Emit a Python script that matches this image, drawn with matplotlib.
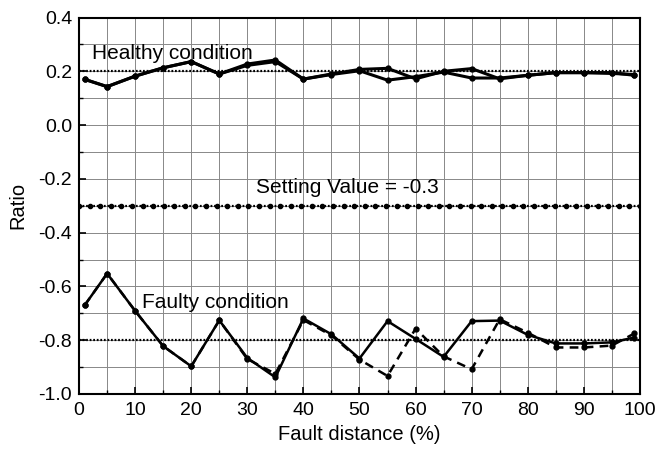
import numpy as np
import matplotlib
matplotlib.use("Agg")
import matplotlib.pyplot as plt

plt.rcParams['font.family'] = ['Liberation Sans', 'DejaVu Sans']

x = [1, 5, 10, 15, 20, 25, 30, 35, 40, 45, 50, 55, 60, 65, 70, 75, 80, 85, 90, 95, 99]
healthy_a = [0.170, 0.143, 0.182, 0.213, 0.236, 0.190, 0.227, 0.242, 0.171, 0.190, 0.207,
             0.211, 0.172, 0.200, 0.210, 0.172, 0.185, 0.195, 0.195, 0.195, 0.185]
healthy_b = [0.170, 0.143, 0.182, 0.213, 0.236, 0.190, 0.222, 0.236, 0.171, 0.188, 0.202,
             0.167, 0.180, 0.197, 0.175, 0.175, 0.185, 0.195, 0.195, 0.192, 0.188]
faulty_solid = [-0.670, -0.552, -0.691, -0.822, -0.897, -0.726, -0.866, -0.938, -0.719, -0.778, -0.868,
                -0.729, -0.795, -0.862, -0.729, -0.727, -0.780, -0.812, -0.812, -0.808, -0.790]
faulty_dashed = [-0.670, -0.552, -0.691, -0.822, -0.897, -0.726, -0.870, -0.925, -0.725, -0.782, -0.872,
                 -0.933, -0.757, -0.860, -0.908, -0.722, -0.772, -0.827, -0.827, -0.820, -0.775]
healthy_ref = 0.2
faulty_ref = -0.8
setting_value = -0.3

fig = plt.figure(figsize=(6.59, 4.49), dpi=100)
ax = fig.add_axes([0.12, 0.1225, 0.851, 0.8385])

ax.set_xlim(0, 100)
ax.set_ylim(-1.0, 0.4)
ax.set_xticks(np.arange(0, 101, 10))
ax.set_xticks(np.arange(0, 101, 5), minor=True)
ax.set_yticks(np.arange(-1.0, 0.41, 0.2))
ax.set_yticks(np.arange(-1.0, 0.41, 0.1), minor=True)
ax.set_yticklabels(['-1.0', '-0.8', '-0.6', '-0.4', '-0.2', '0.0', '0.2', '0.4'])
ax.grid(True, which='both', color='#888888', linewidth=0.7)
ax.set_axisbelow(True)
ax.tick_params(which='both', direction='in', top=False, right=False, labelsize=14)
ax.tick_params(axis='x', which='major', pad=6)
ax.tick_params(axis='y', which='major', pad=5)
ax.tick_params(which='major', length=5, width=1.2)
ax.tick_params(which='minor', length=3, width=1)
for s in ax.spines.values():
    s.set_linewidth(1.5)

dot = (0, (0.8, 0.8))
ax.plot([0, 100], [healthy_ref, healthy_ref], color='black', linestyle=dot, linewidth=1.6)
ax.plot([0, 100], [faulty_ref, faulty_ref], color='black', linestyle=dot, linewidth=1.6)
sx = np.linspace(0, 100, 54)
ax.plot(sx, np.full_like(sx, setting_value), color='black', linestyle=dot, linewidth=1.6,
        marker='o', markersize=3)

ax.plot(x, healthy_b, color='black', linewidth=2.2, marker='o', markersize=3.5)
ax.plot(x, healthy_a, color='black', linewidth=2.2, marker='o', markersize=3.5)
ax.plot(x, faulty_dashed, color='black', linewidth=1.8, linestyle=(0, (3.5, 2.5)), marker='o', markersize=3.5)
ax.plot(x, faulty_solid, color='black', linewidth=1.8, marker='o', markersize=3.5)

ax.text(2.3, 0.246, 'Healthy condition', fontsize=15, ha='left', va='baseline')
ax.text(31.5, -0.253, 'Setting Value = -0.3', fontsize=15, ha='left', va='baseline')
ax.text(11.3, -0.681, 'Faulty condition', fontsize=15, ha='left', va='baseline')

ax.set_xlabel('Fault distance (%)', fontsize=14.5, labelpad=4)
ax.set_ylabel('Ratio', fontsize=14.5, labelpad=8)

fig.savefig('out.png', dpi=100)
